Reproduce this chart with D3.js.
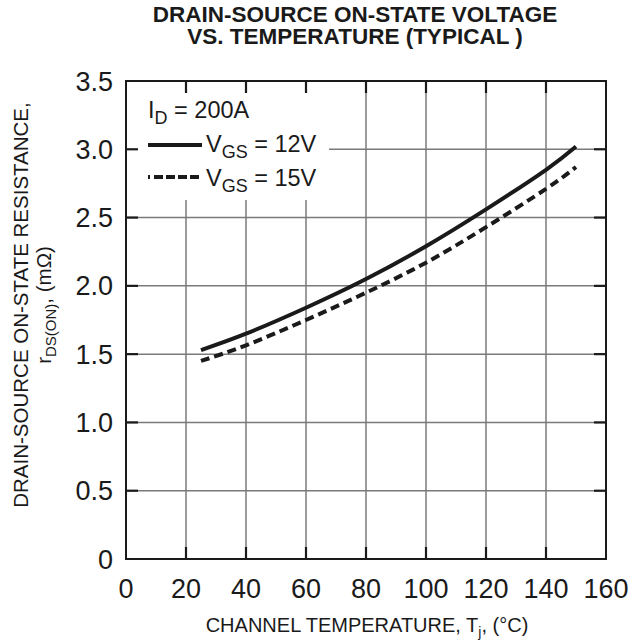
<!DOCTYPE html>
<html>
<head>
<meta charset="utf-8">
<script src="https://cdn.jsdelivr.net/npm/d3@7"></script>
<style>
  html, body { margin: 0; padding: 0; background: #fff; }
  svg { display: block; font-family: "Liberation Sans", Arial, Helvetica, sans-serif; }
</style>
</head>
<body>
<svg id="chart" width="631" height="643"></svg>
<script>
// ---- data ----
const temps = [25, 40, 60, 80, 100, 120, 140, 150];
const vgs12 = [1.53, 1.65, 1.84, 2.05, 2.29, 2.56, 2.85, 3.02];
const vgs15 = [1.45, 1.565, 1.75, 1.95, 2.17, 2.43, 2.71, 2.87];
const xTicks = [0, 20, 40, 60, 80, 100, 120, 140, 160];
const yTicks = [0, 0.5, 1.0, 1.5, 2.0, 2.5, 3.0, 3.5];
const yTickLabels = ["0", "0.5", "1.0", "1.5", "2.0", "2.5", "3.0", "3.5"];

const svg = d3.select("#chart");
const L = 126, R = 606, T = 81, B = 559;
const x = d3.scaleLinear().domain([0, 160]).range([L, R]);
const y = d3.scaleLinear().domain([0, 3.5]).range([B, T]);

// grid
const grid = svg.append("g").attr("stroke", "#7a7a7a").attr("stroke-width", 1.5);
grid.selectAll("line.v").data(xTicks.slice(1, -1)).enter().append("line")
  .attr("x1", d => x(d)).attr("x2", d => x(d)).attr("y1", T).attr("y2", B);
grid.selectAll("line.h").data(yTicks.slice(1, -1)).enter().append("line")
  .attr("x1", L).attr("x2", R).attr("y1", d => y(d)).attr("y2", d => y(d));

// curves
const line = d3.line().x((d, i) => x(temps[i])).y(d => y(d)).curve(d3.curveNatural);
svg.append("path").datum(vgs12).attr("d", line)
  .attr("fill", "none").attr("stroke", "#1a1a1a").attr("stroke-width", 4);
svg.append("path").datum(vgs15).attr("d", line)
  .attr("fill", "none").attr("stroke", "#1a1a1a").attr("stroke-width", 4)
  .attr("stroke-dasharray", "9,5");

// legend background
svg.append("rect").attr("x", L + 1).attr("y", 93).attr("width", 329 - L - 1).attr("height", 200 - 93)
  .attr("fill", "#fff");

// frame
svg.append("rect").attr("x", L).attr("y", T).attr("width", R - L).attr("height", B - T)
  .attr("fill", "none").attr("stroke", "#1a1a1a").attr("stroke-width", 2);

// ticks (inward on all four sides)
const tk = svg.append("g").attr("stroke", "#1a1a1a").attr("stroke-width", 2.2);
const TL = 12;
xTicks.slice(1, -1).forEach(d => {
  tk.append("line").attr("x1", x(d)).attr("x2", x(d)).attr("y1", B).attr("y2", B - TL);
  tk.append("line").attr("x1", x(d)).attr("x2", x(d)).attr("y1", T).attr("y2", T + TL);
});
yTicks.slice(1, -1).forEach(d => {
  tk.append("line").attr("x1", L).attr("x2", L + TL).attr("y1", y(d)).attr("y2", y(d));
  tk.append("line").attr("x1", R).attr("x2", R - TL).attr("y1", y(d)).attr("y2", y(d));
});

// tick labels
svg.append("g").selectAll("text").data(xTicks).enter().append("text")
  .attr("x", d => x(d)).attr("y", 598).attr("text-anchor", "middle")
  .attr("font-size", 27).attr("fill", "#1a1a1a").text(d => d);
svg.append("g").selectAll("text").data(yTicks).enter().append("text")
  .attr("x", 113).attr("y", d => y(d) + 9.5).attr("text-anchor", "end")
  .attr("font-size", 27).attr("fill", "#1a1a1a").text((d, i) => yTickLabels[i]);

// title
const title = svg.append("text").attr("text-anchor", "middle").attr("font-weight", "bold")
  .attr("font-size", 22.5).attr("fill", "#1a1a1a");
title.append("tspan").attr("x", 355).attr("y", 22).text("DRAIN-SOURCE ON-STATE VOLTAGE");
title.append("tspan").attr("x", 355).attr("y", 44).text("VS. TEMPERATURE (TYPICAL )");

// x axis title
const xt = svg.append("text").attr("x", 367).attr("y", 632).attr("text-anchor", "middle")
  .attr("font-size", 20).attr("fill", "#1a1a1a");
xt.append("tspan").text("CHANNEL TEMPERATURE, T");
xt.append("tspan").attr("font-size", 14).attr("dy", 5).text("j");
xt.append("tspan").attr("dy", -5).text(", (°C)");

// y axis title
const yc = 305;
svg.append("text").attr("transform", `translate(28,${yc}) rotate(-90)`)
  .attr("text-anchor", "middle").attr("font-size", 20.5).attr("fill", "#1a1a1a")
  .text("DRAIN-SOURCE ON-STATE RESISTANCE,");
const yt2 = svg.append("text").attr("transform", `translate(51,${yc}) rotate(-90)`)
  .attr("text-anchor", "middle").attr("font-size", 20.5).attr("fill", "#1a1a1a");
yt2.append("tspan").text("r");
yt2.append("tspan").attr("font-size", 15).attr("dy", 5).text("DS(ON)");
yt2.append("tspan").attr("dy", -5).text(", (mΩ)");

// legend
const lg = svg.append("g").attr("fill", "#1a1a1a").attr("font-size", 23.5);
const t1 = lg.append("text").attr("x", 148).attr("y", 118);
t1.append("tspan").text("I");
t1.append("tspan").attr("font-size", 18).attr("dy", 6).text("D");
t1.append("tspan").attr("dy", -6).text(" = 200A");

lg.append("line").attr("x1", 148).attr("x2", 202).attr("y1", 145).attr("y2", 145)
  .attr("stroke", "#1a1a1a").attr("stroke-width", 4);
const t2 = lg.append("text").attr("x", 206).attr("y", 152);
t2.append("tspan").text("V");
t2.append("tspan").attr("font-size", 18).attr("dy", 6).text("GS");
t2.append("tspan").attr("dy", -6).text(" = 12V");

lg.append("line").attr("x1", 148).attr("x2", 202).attr("y1", 177).attr("y2", 177)
  .attr("stroke", "#1a1a1a").attr("stroke-width", 4).attr("stroke-dasharray", "2,4,9,3,9,3,9,3,9,3");
const t3 = lg.append("text").attr("x", 206).attr("y", 186);
t3.append("tspan").text("V");
t3.append("tspan").attr("font-size", 18).attr("dy", 6).text("GS");
t3.append("tspan").attr("dy", -6).text(" = 15V");
</script>
</body>
</html>
